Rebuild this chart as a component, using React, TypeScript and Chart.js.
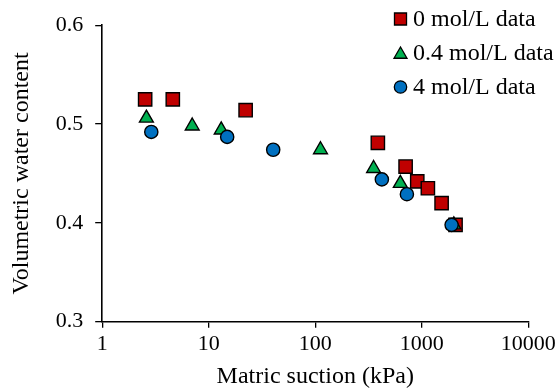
import React, { useEffect, useRef } from "react";
import { Chart, registerables } from "chart.js";

Chart.register(...registerables);

const seriesNames = ["0 mol/L data", "0.4 mol/L data", "4 mol/L data"];

const suction0 = [2.53, 4.6, 22.2, 387, 705, 907, 1141, 1535, 2075];
const theta0 = [0.525, 0.525, 0.514, 0.481, 0.457, 0.442, 0.435, 0.42, 0.398];

const suction04 = [2.6, 7.0, 13.1, 112, 353, 629, 2000];
const theta04 = [0.506, 0.498, 0.494, 0.474, 0.455, 0.44, 0.398];

const suction4 = [2.89, 14.9, 40.3, 422, 725, 1905];
const theta4 = [0.492, 0.487, 0.474, 0.444, 0.429, 0.398];

const xTicks = [1, 10, 100, 1000, 10000];
const yTicks = [0.3, 0.4, 0.5, 0.6];

const colors = ["#C00000", "#00B050", "#0070C0"];
const styles = ["rect", "triangle", "circle"];
const radii = [9.4, 8, 6.6];

const FONT = "'Liberation Serif', 'Times New Roman', serif";

function drawMarker(ctx: CanvasRenderingContext2D, style: string, x: number, y: number, r: number, fill: string) {
  ctx.save();
  ctx.fillStyle = fill;
  ctx.strokeStyle = "#000";
  ctx.lineWidth = 1.3;
  ctx.beginPath();
  if (style === "rect") {
    const s = r * Math.SQRT1_2;
    ctx.rect(x - s, y - s, 2 * s, 2 * s);
  } else if (style === "triangle") {
    for (let i = 0; i < 3; i++) {
      const a = -Math.PI / 2 + (i * 2 * Math.PI) / 3;
      const px = x + r * Math.cos(a);
      const py = y + r * Math.sin(a) + r * 0.2;
      if (i === 0) ctx.moveTo(px, py);
      else ctx.lineTo(px, py);
    }
    ctx.closePath();
  } else {
    ctx.arc(x, y, r, 0, Math.PI * 2);
  }
  ctx.fill();
  ctx.stroke();
  ctx.restore();
}

const legendPlugin = {
  id: "customLegend",
  afterDraw(chart: any) {
    const ctx = chart.ctx as CanvasRenderingContext2D;
    const rows = [19, 53, 87];
    ctx.save();
    ctx.font = `24px ${FONT}`;
    ctx.fillStyle = "#000";
    ctx.textBaseline = "middle";
    ctx.textAlign = "left";
    seriesNames.forEach((name, i) => {
      const r = i === 0 ? 8.5 : i === 1 ? 7.5 : 6.2;
      drawMarker(ctx, styles[i], 400.5, rows[i], r, colors[i]);
      ctx.fillText(name, 413, rows[i] + 1);
    });
    ctx.restore();
  },
};

export default function App() {
  const ref = useRef<HTMLCanvasElement | null>(null);
  useEffect(() => {
    document.body.style.margin = "0";
    const canvas = ref.current;
    if (!canvas) return;
    const mk = (xs: number[], ys: number[]) => xs.map((x, i) => ({ x, y: ys[i] }));
    const data = [mk(suction0, theta0), mk(suction04, theta04), mk(suction4, theta4)];
    const chart = new Chart(canvas, {
      type: "scatter",
      data: {
        datasets: data.map((d, i) => ({
          label: seriesNames[i],
          data: d,
          pointStyle: styles[i] as any,
          pointRadius: radii[i],
          pointHoverRadius: radii[i],
          backgroundColor: colors[i],
          borderColor: "#000",
          pointBorderWidth: 1.4,
          showLine: false,
          order: 2 - i,
        })),
      },
      options: {
        animation: false,
        responsive: false,
        maintainAspectRatio: false,
        events: [],
        layout: { padding: { top: 21.7, right: 31.7, left: 0, bottom: 0 } },
        plugins: { legend: { display: false }, tooltip: { enabled: false } },
        scales: {
          x: {
            type: "logarithmic",
            min: 1,
            max: 10000,
            afterBuildTicks: (scale: any) => {
              scale.ticks = xTicks.map((v) => ({ value: v }));
            },
            afterFit: (scale: any) => {
              scale.height = 67.3;
            },
            ticks: {
              color: "#000",
              font: { family: FONT, size: 22 },
              padding: 3,
              maxRotation: 0,
              autoSkip: false,
              callback: (v: any) => String(v),
            },
            grid: { drawOnChartArea: false, drawTicks: true, tickLength: 6, color: "#000", lineWidth: 1.3 },
            border: { color: "#000", width: 1.6 },
            title: {
              display: true,
              text: "Matric suction (kPa)",
              color: "#000",
              font: { family: FONT, size: 24, lineHeight: 1 },
              padding: { top: 0, bottom: 0 },
            },
          },
          y: {
            min: 0.3,
            max: 0.6,
            afterBuildTicks: (scale: any) => {
              scale.ticks = yTicks.map((v) => ({ value: v }));
            },
            afterFit: (scale: any) => {
              scale.width = 102.2;
            },
            ticks: {
              color: "#000",
              font: { family: FONT, size: 22 },
              padding: 12,
              callback: (v: any) => Number(v).toFixed(1),
            },
            grid: { drawOnChartArea: false, drawTicks: true, tickLength: 7, color: "#000", lineWidth: 1.3 },
            border: { color: "#000", width: 1.6 },
            title: {
              display: true,
              text: "Volumetric water content",
              color: "#000",
              font: { family: FONT, size: 24, lineHeight: 1 },
              padding: { top: 10, bottom: 0 },
            },
          },
        },
      },
      plugins: [legendPlugin],
    });
    return () => chart.destroy();
  }, []);
  return (
    <div style={{ width: 560, height: 389, background: "#fff" }}>
      <canvas ref={ref} width={560} height={389} style={{ display: "block" }} />
    </div>
  );
}
